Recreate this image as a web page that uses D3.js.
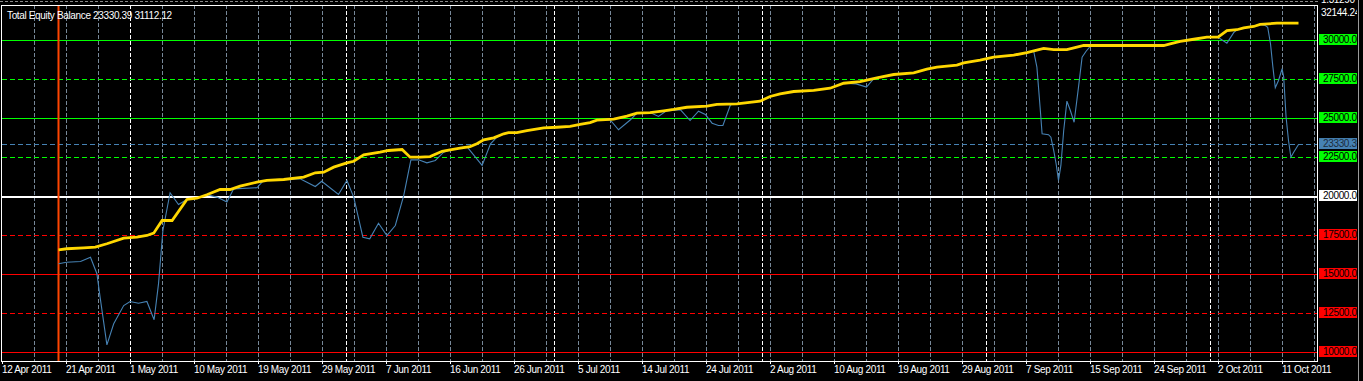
<!DOCTYPE html>
<html>
<head>
<meta charset="utf-8">
<script src="https://cdn.jsdelivr.net/npm/d3@7"></script>
<style>
html, body { margin: 0; padding: 0; background: #000; overflow: hidden; }
svg { display: block; }
text { font-family: "Liberation Sans", Arial, sans-serif; font-size: 10px; letter-spacing: -0.35px; }
</style>
</head>
<body>
<svg id="chart"></svg>
<script>
// tick labels every 16 bars
var tickLabels = ["12 Apr 2011", "21 Apr 2011", "1 May 2011", "10 May 2011", "19 May 2011",
  "29 May 2011", "7 Jun 2011", "16 Jun 2011", "26 Jun 2011", "5 Jul 2011", "14 Jul 2011",
  "24 Jul 2011", "2 Aug 2011", "10 Aug 2011", "19 Aug 2011", "29 Aug 2011", "7 Sep 2011",
  "15 Sep 2011", "24 Sep 2011", "2 Oct 2011", "11 Oct 2011"];
var monthStarts = [32, 86, 138, 190, 246, 302];   // bar index of first bar of each month
var testStart = 14;                                // bar where the test begins
var levelValues = [30000, 27500, 25000, 22500, 20000, 17500, 15000, 12500, 10000];
var equityNow = 23330.39;
var balanceNow = 31112.12;
var equityMax = 32144.24;
var upperPaneLabel = "1.31290";

var balanceBars = [14, 16.1, 20.3, 23.2, 26.1, 30.3, 33.6, 36.1, 37.8, 39.9, 42.4, 46.1, 48.6,
  51.1, 54.4, 56.9, 59.4, 63.6, 66.1, 70.3, 75.3, 78.2, 80.3, 82.8, 86.1, 87.8, 90.3, 94.4,
  96.5, 99.9, 101.9, 104.4, 106.9, 109.9, 111.9, 114.4, 116.9, 118.6, 120.3, 122.8, 125.3,
  126.5, 128.6, 131.1, 135.3, 138.6, 141.9, 144.4, 146.9, 148.6, 152.8, 156.1, 158.6, 161.9,
  165.3, 167.8, 171.1, 176.1, 178.6, 183.6, 189.4, 191.9, 194.4, 197.8, 202.8, 206.9, 210.3,
  214.4, 218.6, 222.8, 227.8, 231.1, 233.6, 238.6, 240.3, 244.4, 247.8, 252.8, 256.1, 260.3,
  262.8, 266.1, 268.6, 270.3, 290.3, 291.9, 294.4, 297.8, 301.1, 303.9, 306.1, 308.6, 310.3,
  312.8, 314.4, 318.6, 324];
var balanceValues = [16580, 16650, 16710, 16750, 16970, 17330, 17390, 17500, 17650, 18460,
  18460, 19810, 19890, 20110, 20450, 20450, 20660, 20920, 21030, 21090, 21240, 21520, 21560,
  21880, 22160, 22260, 22670, 22840, 22950, 23010, 22520, 22520, 22560, 22900, 22990, 23100,
  23200, 23380, 23630, 23760, 24020, 24100, 24100, 24230, 24400, 24440, 24490, 24620, 24740,
  24890, 24960, 25150, 25340, 25380, 25490, 25580, 25720, 25790, 25900, 25940, 26110, 26410,
  26580, 26730, 26800, 26940, 27260, 27370, 27610, 27820, 27930, 28160, 28290, 28420, 28570,
  28740, 28930, 29060, 29230, 29490, 29420, 29420, 29570, 29680, 29680, 29790, 29940, 30080,
  30210, 30210, 30640, 30690, 30810, 30900, 31030, 31110, 31110];

var equityBars = [14, 16, 19.5, 22, 23.6, 24.4, 26.1, 27.8, 30.3, 31.9, 34, 36.1, 37.9, 39,
  40.1, 41.9, 44, 46.1, 48.6, 51.1, 53.6, 56.1, 57.8, 63.6, 65, 66.1, 70.3, 74.4, 78.2, 79.8,
  84, 86.1, 87.8, 90.1, 91.8, 94, 96.1, 98.2, 100.3, 102.1, 104, 106.1, 108.2, 110.3, 111.9,
  116.1, 119.9, 122, 123.6, 125.3, 126.5, 128.6, 131.1, 135.3, 138.6, 141.9, 144.4, 146.9,
  148.6, 151.9, 154, 157, 158.6, 161.9, 164, 166, 169.5, 171.9, 174, 175.7, 177.4, 179, 180.1,
  182, 183.6, 189.4, 191.9, 194.4, 197.8, 202.8, 206.9, 210.3, 213.4, 216, 217.8, 218.6,
  222.8, 227.8, 231.1, 233.6, 238.6, 240.3, 244.4, 247.8, 252.8, 256.1, 257.8, 258.6, 259.4,
  259.9, 261.5, 262.1, 262.8, 263.4, 264, 264.6, 265.3, 266.1, 266.9, 267.9, 269, 269.9,
  270.9, 271.9, 290.3, 291.9, 294.4, 297.8, 301.1, 303.9, 306.1, 307.8, 308.6, 310.3, 312.8,
  314.4, 315.7, 316.3, 317, 317.6, 318.2, 319, 319.9, 320.3, 320.9, 321.5, 322.1, 322.8, 324];
var equityValues = [15690, 15790, 15830, 16110, 15050, 13550, 10490, 11840, 13010, 13270,
  13160, 13270, 12100, 14400, 17820, 20240, 19490, 19810, 19890, 20110, 19960, 19640, 20490,
  20560, 20950, 21030, 21090, 21140, 20640, 20980, 20130, 21030, 19960, 17390, 17290, 18290,
  17500, 18140, 20060, 22350, 22350, 22160, 22310, 22840, 22990, 23200, 21990, 23380, 23800,
  24020, 24100, 24100, 24230, 24400, 24440, 24490, 24620, 24740, 24890, 24920, 24280, 24920,
  25340, 25380, 25130, 25490, 25560, 24870, 25470, 25260, 24700, 24550, 24550, 25880, 25940,
  26110, 26410, 26580, 26730, 26800, 26940, 27260, 27220, 27010, 27550, 27610, 27820, 27930,
  28160, 28290, 28420, 28570, 28740, 28930, 29060, 29230, 29310, 28290, 25720, 24020, 23960,
  23800, 22950, 22100, 21030, 21990, 24230, 26110, 25560, 24760, 27010, 28930, 29310, 29620,
  29680, 29790, 29940, 30080, 30210, 30210, 29830, 30500, 30690, 30810, 30900, 31030, 30960,
  30850, 29790, 28290, 26970, 27440, 28190, 27650, 25080, 23590, 22520, 22840, 23330];

var width = 1363, height = 381;
var plot = { left: 2, right: 1318, top: 5, bottom: 361 };

var svg = d3.select("#chart").attr("width", width).attr("height", height);
svg.append("rect").attr("width", width).attr("height", height).attr("fill", "#000");

var x = d3.scaleLinear().domain([0, 329]).range([2.5, 1318.5]);
var y = d3.scaleLinear().domain([10000, 30000]).range([352.5, 40.5]);

var gridBars = d3.range(8, 329, 8);

function levelColor(v) {
  if (v > 20000) return "#00ff00";
  if (v < 20000) return "#ff0000";
  return "#ffffff";
}

// upper pane remnant
svg.append("line").attr("x1", 0).attr("x2", plot.right).attr("y1", 1.5).attr("y2", 1.5)
  .attr("stroke", "#8a8a8a").attr("stroke-dasharray", "3,2");
svg.append("text").attr("x", 1321).attr("y", 3).attr("fill", "#fff").text(upperPaneLabel);

// vertical grid
svg.append("g").selectAll("line").data(gridBars).join("line")
  .attr("x1", d => x(d)).attr("x2", d => x(d))
  .attr("y1", plot.top).attr("y2", plot.bottom)
  .attr("stroke", "#778899").attr("stroke-dasharray", "4,2")
  .attr("shape-rendering", "crispEdges");

svg.append("g").selectAll("line").data(monthStarts).join("line")
  .attr("x1", d => x(d)).attr("x2", d => x(d))
  .attr("y1", plot.top).attr("y2", plot.bottom)
  .attr("stroke", "#ffffff").attr("stroke-dasharray", "4,2")
  .attr("shape-rendering", "crispEdges");

// level lines
svg.append("g").selectAll("line").data(levelValues).join("line")
  .attr("x1", plot.left).attr("x2", plot.right)
  .attr("y1", d => y(d)).attr("y2", d => y(d))
  .attr("stroke", levelColor)
  .attr("stroke-width", d => d === 20000 ? 2 : 1)
  .attr("stroke-dasharray", d => d % 5000 === 0 ? null : "5,3")
  .attr("shape-rendering", "crispEdges");

svg.append("line").attr("x1", plot.left).attr("x2", plot.right)
  .attr("y1", y(equityNow)).attr("y2", y(equityNow))
  .attr("stroke", "#4682b4").attr("stroke-dasharray", "5,3")
  .attr("shape-rendering", "crispEdges");

// test start marker
svg.append("line").attr("x1", x(testStart)).attr("x2", x(testStart))
  .attr("y1", plot.top).attr("y2", plot.bottom)
  .attr("stroke", "#ff4500").attr("stroke-width", 2);

// equity and balance
var equity = equityBars.map((b, i) => [b, equityValues[i]]);
var balance = balanceBars.map((b, i) => [b, balanceValues[i]]);
var line = d3.line().x(d => x(d[0])).y(d => y(d[1]));

svg.append("path").datum(equity).attr("d", line)
  .attr("fill", "none").attr("stroke", "#4682b4").attr("stroke-width", 1.1);
svg.append("path").datum(balance).attr("d", line)
  .attr("fill", "none").attr("stroke", "#ffd700").attr("stroke-width", 2.8)
  .attr("stroke-linejoin", "miter");

// frame
svg.append("rect").attr("x", plot.left - 0.5).attr("y", plot.top + 0.5)
  .attr("width", plot.right - plot.left).attr("height", plot.bottom - plot.top - 0.5)
  .attr("fill", "none").attr("stroke", "#fff").attr("shape-rendering", "crispEdges");

// bottom axis
var tickBars = tickLabels.map((t, i) => i * 16);
var xAxis = svg.append("g");
xAxis.selectAll("line").data(tickBars).join("line")
  .attr("x1", d => x(d)).attr("x2", d => x(d))
  .attr("y1", plot.bottom).attr("y2", plot.bottom + 3)
  .attr("stroke", "#fff").attr("shape-rendering", "crispEdges");
xAxis.selectAll("text").data(tickLabels).join("text")
  .attr("x", (d, i) => x(tickBars[i]) - 0.5).attr("y", 373)
  .attr("fill", "#fff").text(d => d);

// right price labels
svg.append("clipPath").attr("id", "lbl").append("rect")
  .attr("x", 1319).attr("y", 0).attr("width", 38).attr("height", height);
var labels = svg.append("g").attr("clip-path", "url(#lbl)");
var labelData = levelValues.map(v => ({ v: v, c: levelColor(v) }))
  .concat([{ v: equityNow, c: "#4682b4" }]);
labels.selectAll("rect").data(labelData).join("rect")
  .attr("x", 1319).attr("y", d => y(d.v) - 6.5).attr("width", 38).attr("height", 11)
  .attr("fill", d => d.c);
labels.selectAll("text").data(labelData).join("text")
  .attr("x", 1323).attr("y", d => y(d.v) + 2)
  .attr("fill", d => d.v === equityNow ? "#1c2c3c" : "#000")
  .text(d => d.v.toFixed(2));
labels.append("text").attr("x", 1321).attr("y", 16).attr("fill", "#fff")
  .text(equityMax.toFixed(2));

svg.append("line").attr("x1", 1358.5).attr("x2", 1358.5).attr("y1", 0).attr("y2", height)
  .attr("stroke", "#9a9a9a");

// caption
svg.append("text").attr("x", 7).attr("y", 19).attr("fill", "#fff")
  .text("Total Equity Balance " + equityNow.toFixed(2) + " " + balanceNow.toFixed(2));
</script>
</body>
</html>
